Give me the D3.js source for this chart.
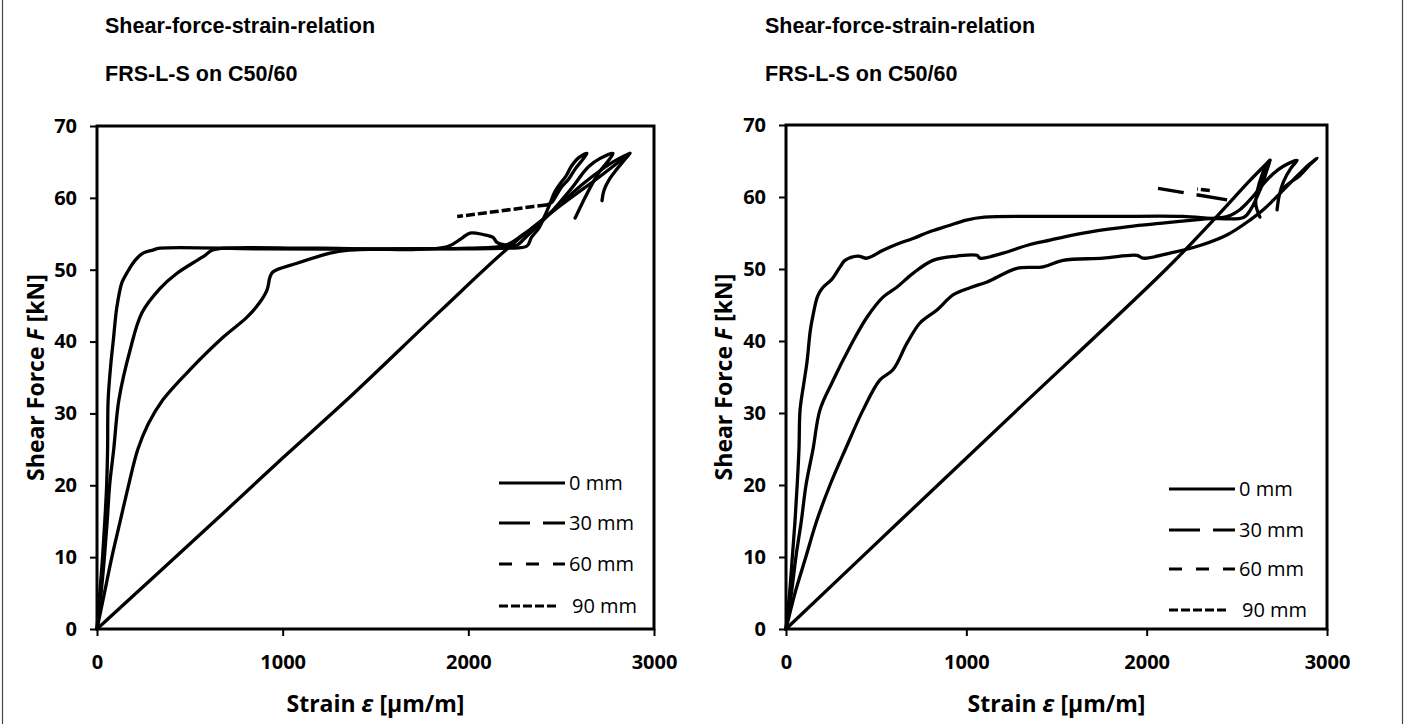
<!DOCTYPE html>
<html>
<head>
<meta charset="utf-8">
<script src="https://cdn.jsdelivr.net/npm/d3@7"></script>
<style>
  body { margin: 0; background: #fff; }
  svg { display: block; }
</style>
</head>
<body>
<svg id="fig" width="1405" height="724"></svg>
<script>
// ---- shared axis / legend definitions ----
const xTicks = [0, 1000, 2000, 3000];
const yTicks = [0, 10, 20, 30, 40, 50, 60, 70];
const seriesNames = ["0 mm", "30 mm", "60 mm", "90 mm"];
const seriesDash = [null, "31 13", "13 14", "9 3"];
const titleLines = ["Shear-force-strain-relation", "FRS-L-S on C50/60"];

// ---- left panel: [strain µm/m, force kN] ----
const leftSeries0 = [[0,0],[300,7.1],[700,16.6],[1000,23.8],[1346,31.9],[1847,44.2],[2213,53.0],[2500,59.0],[2700,62.8],[2870,66.2]];
const leftSeries30 = [[0,0],[40,5],[80,10],[125,15],[170,20],[220,25],[275,28.5],[355,31.9],[501,36.1],[679,40.6],[808,43.4],[878,45.5],[916,47.2],[932,49.0],[948,49.7],[1077,50.9],[1255,52.3],[1346,52.7],[1600,52.9],[2000,53.0],[2200,53.4],[2290,54.8],[2380,56.5],[2460,58.3],[2540,60.2],[2620,62.0],[2700,63.6],[2780,65.0],[2870,66.2],[2845,65.4],[2800,64.0],[2760,62.6],[2730,61.0],[2720,59.6]];
const leftSeries60 = [[0,0],[22,5],[40,10],[55,15],[68,20],[90,25],[118,31.9],[178,38.8],[242,44.0],[340,47.4],[431,49.5],[539,51.3],[582,52.0],[619,52.7],[680,53.0],[1200,53.0],[1885,53.2],[1960,54.3],[2009,55.1],[2079,54.9],[2133,54.5],[2154,53.8],[2208,53.4],[2260,53.4],[2320,54.8],[2400,56.8],[2460,58.4],[2520,60.2],[2570,61.8],[2610,63.2],[2650,64.4],[2710,65.5],[2779,66.2],[2755,65.2],[2705,63.6],[2660,61.6],[2620,59.6],[2590,58.0],[2575,57.2]];
const leftSeries90 = [[0,0],[15,5],[30,10],[42,15],[52,20],[57,25],[60,31.9],[75,37],[88,40.2],[107,44.8],[134,48.2],[160,49.5],[205,51.3],[248,52.3],[296,52.7],[340,53.0],[900,52.9],[1600,52.9],[2200,53.0],[2316,53.3],[2340,54.5],[2380,55.8],[2410,57.4],[2440,59.2],[2465,60.8],[2495,62.0],[2525,63.0],[2555,64.4],[2595,65.6],[2639,66.2],[2615,65.3],[2575,64.0],[2540,62.6],[2505,61.6],[2475,60.4],[2450,59.4],[2420,59.0]];
const leftTail90 = [[2420,59.0],[2350,58.8],[2150,58.1],[1940,57.4]];

// ---- right panel: [strain µm/m, force kN] ----
const rightSeries0 = [[0,0],[640,15.2],[1281,30.4],[2113,50.1],[2400,57.6],[2573,62.3],[2684,65.1]];
const rightSeries30 = [[0,0],[50,5],[110,10],[170,15],[244,20],[330,25],[427,30.4],[521,34.6],[593,36.0],[671,39.7],[743,42.5],[837,44.3],[926,46.4],[1020,47.4],[1115,48.2],[1281,50.1],[1425,50.3],[1536,51.2],[1758,51.5],[1946,51.9],[1980,51.5],[2129,52.2],[2300,53.3],[2450,54.8],[2573,56.8],[2650,58.3],[2720,60.0],[2790,61.8],[2850,63.3],[2900,64.5],[2945,65.4],[2910,64.6],[2850,63.0],[2790,61.9],[2756,61.2]];
const rightSeries60 = [[0,0],[30,5],[55,10],[85,15],[111,20],[150,25],[188,30.4],[255,34.2],[355,39.2],[449,43.3],[538,46.1],[616,47.5],[704,49.4],[815,51.2],[948,51.8],[1059,51.9],[1076,51.5],[1203,52.2],[1353,53.4],[1464,54.0],[1550,54.5],[1720,55.3],[1900,55.9],[2100,56.4],[2300,56.9],[2450,57.3],[2520,58.3],[2580,59.8],[2640,61.6],[2700,63.2],[2760,64.3],[2834,65.1],[2800,64.0],[2760,62.2],[2735,60.2],[2723,58.2]];
const rightSeries90 = [[0,0],[20,5],[35,10],[50,15],[62,20],[72,25],[78,30.4],[98,34],[116,37],[135,41.5],[150,43.6],[175,46.2],[200,47.3],[255,48.6],[300,50.3],[327,51.2],[399,51.8],[449,51.5],[538,52.6],[632,53.6],[700,54.2],[800,55.2],[900,56.0],[1000,56.8],[1100,57.2],[1400,57.3],[1800,57.3],[2200,57.3],[2400,57.0],[2540,57.2],[2580,58.4],[2615,60.2],[2645,62.0],[2665,63.6],[2684,65.1],[2662,64.4],[2636,62.8],[2615,61.0],[2605,59.0],[2628,57.2]];
const rightTail30 = [[2446,59.6],[2063,61.2]];
const rightTail90 = [[2350,60.9],[2280,61.1]];

const panels = [
  { left: 97, right: 654, top: 126, bottom: 629, titleX: 105, yTitleX: 36,
    legendX: 499, legendY: [483, 523, 564, 606],
    series: [leftSeries0, leftSeries30, leftSeries60, leftSeries90],
    tails: [{ pts: leftTail90, idx: 3 }] },
  { left: 786, right: 1327, top: 125, bottom: 629, titleX: 765, yTitleX: 724,
    legendX: 1169, legendY: [489, 530, 569, 610],
    series: [rightSeries0, rightSeries30, rightSeries60, rightSeries90],
    tails: [{ pts: rightTail30, idx: 1 }, { pts: rightTail90, idx: 3 }] }
];

const svg = d3.select("#fig");
svg.append("rect").attr("width", 1405).attr("height", 724).attr("fill", "#fff");
// outer frame (left and right edges)
svg.append("line").attr("x1", 2.5).attr("x2", 2.5).attr("y1", 0).attr("y2", 724).attr("stroke", "#444").attr("stroke-width", 1.2);
svg.append("line").attr("x1", 1402.5).attr("x2", 1402.5).attr("y1", 0).attr("y2", 724).attr("stroke", "#444").attr("stroke-width", 1.2);

const axisFont = "'Open Sans', sans-serif";

panels.forEach(p => {
  const x = d3.scaleLinear().domain([0, 3000]).range([p.left, p.right]);
  const y = d3.scaleLinear().domain([0, 70]).range([p.bottom, p.top]);
  const g = svg.append("g");

  // titles
  titleLines.forEach((t, i) => {
    g.append("text").attr("x", p.titleX).attr("y", 33 + i * 48)
      .attr("font-family", "'Liberation Sans', Arial, sans-serif")
      .attr("font-weight", "bold").attr("font-size", 21.5).attr("fill", "#000").text(t);
  });

  // axes with outward ticks
  const yAxis = d3.axisLeft(y).tickValues(yTicks).tickSize(7).tickPadding(13).tickFormat(d3.format("d"));
  const xAxis = d3.axisBottom(x).tickValues(xTicks).tickSize(7).tickPadding(19).tickFormat(d3.format("d"));
  const ya = g.append("g").attr("transform", `translate(${p.left},0)`).call(yAxis);
  const xa = g.append("g").attr("transform", `translate(0,${p.bottom})`).call(xAxis);
  [ya, xa].forEach(a => {
    a.select(".domain").remove();
    a.selectAll(".tick line").attr("stroke", "#000").attr("stroke-width", 2);
    a.selectAll(".tick text").attr("font-family", axisFont).attr("font-weight", "bold")
      .attr("font-size", 20).attr("fill", "#000");
  });

  // plot frame
  g.append("rect").attr("x", p.left).attr("y", p.top)
    .attr("width", p.right - p.left).attr("height", p.bottom - p.top)
    .attr("fill", "none").attr("stroke", "#000").attr("stroke-width", 3);

  // axis titles
  const cx = (p.left + p.right) / 2;
  const xt = g.append("text").attr("x", cx).attr("y", 712).attr("text-anchor", "middle")
    .attr("font-family", axisFont).attr("font-weight", "bold").attr("font-size", 23).attr("fill", "#000");
  xt.append("tspan").text("Strain ");
  xt.append("tspan").attr("font-style", "italic").text("ε");
  xt.append("tspan").text(" [µm/m]");

  const cy = (p.top + p.bottom) / 2;
  const yt = g.append("text").attr("transform", `translate(${p.yTitleX + 8},${cy}) rotate(-90)`)
    .attr("text-anchor", "middle")
    .attr("font-family", axisFont).attr("font-weight", "bold").attr("font-size", 23).attr("fill", "#000");
  yt.append("tspan").text("Shear Force ");
  yt.append("tspan").attr("font-style", "italic").text("F");
  yt.append("tspan").text(" [kN]");

  // curves
  const line = d3.line().x(d => x(d[0])).y(d => y(d[1])).curve(d3.curveCatmullRom.alpha(0.5));
  p.series.forEach(s => {
    g.append("path").datum(s).attr("d", line)
      .attr("fill", "none").attr("stroke", "#000").attr("stroke-width", 3.3)
      .attr("stroke-linejoin", "round").attr("stroke-linecap", "round");
  });
  const straight = d3.line().x(d => x(d[0])).y(d => y(d[1]));
  p.tails.forEach(t => {
    g.append("path").datum(t.pts).attr("d", straight)
      .attr("fill", "none").attr("stroke", "#000").attr("stroke-width", 3.5)
      .attr("stroke-dasharray", seriesDash[t.idx]);
  });

  // legend
  seriesNames.forEach((name, i) => {
    const ly = p.legendY[i];
    const len = i === 3 ? 59 : 66;
    g.append("line").attr("x1", p.legendX).attr("x2", p.legendX + len)
      .attr("y1", ly).attr("y2", ly).attr("stroke", "#000").attr("stroke-width", 3)
      .attr("stroke-dasharray", seriesDash[i]);
    g.append("text").attr("x", p.legendX + (i === 3 ? 73 : 70)).attr("y", ly + 7)
      .attr("font-family", axisFont).attr("font-size", 20).attr("fill", "#000").text(name);
  });
});
</script>
</body>
</html>
